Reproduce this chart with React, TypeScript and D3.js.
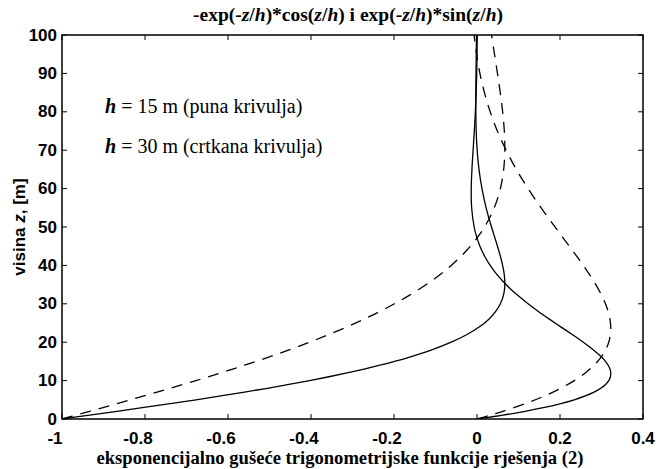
import * as d3 from "d3";

// heights z [m] and function values
const zSolid = [0, 1, 2, 3, 4, 5, 6, 7, 8, 9, 10, 11, 12, 13, 14, 15, 16, 18, 20, 22, 24, 26, 28, 30, 32, 34, 36, 38, 40, 42, 45, 48, 50, 55, 60, 65, 70, 75, 80, 85, 90, 95, 100];
const cosSolid = [-1, -0.9334, -0.8674, -0.8024, -0.7389, -0.6771, -0.6174, -0.56, -0.5052, -0.453, -0.4035, -0.3569, -0.3131, -0.2721, -0.2341, -0.1988, -0.1662, -0.1091, -0.062, -0.024, 0.0059, 0.0286, 0.0451, 0.0563, 0.0632, 0.0665, 0.0669, 0.0652, 0.0618, 0.0573, 0.0493, 0.0407, 0.035, 0.022, 0.012, 0.0048, 0.0004, -0.0019, -0.0028, -0.0028, -0.0024, -0.0018, -0.0012];
const sinSolid = [0, 0.0623, 0.1163, 0.1627, 0.2018, 0.2344, 0.261, 0.2821, 0.2982, 0.3099, 0.3175, 0.3215, 0.3223, 0.3204, 0.316, 0.3096, 0.3014, 0.2807, 0.2562, 0.2294, 0.2018, 0.1744, 0.1479, 0.1231, 0.1002, 0.0795, 0.0613, 0.0453, 0.0318, 0.0204, 0.007, -0.0024, -0.0069, -0.0129, -0.0139, -0.0122, -0.0094, -0.0065, -0.0039, -0.002, -0.0007, 0.0001, 0.0005];

const zDashed = [0, 1, 2, 4, 6, 8, 10, 12, 14, 16, 18, 20, 22, 24, 26, 28, 30, 32, 36, 40, 44, 48, 52, 56, 60, 64, 68, 72, 76, 80, 84, 90, 96, 100];
const cosDashed = [-1, -0.9667, -0.9334, -0.8674, -0.8024, -0.7389, -0.6771, -0.6174, -0.56, -0.5052, -0.453, -0.4035, -0.3569, -0.3131, -0.2721, -0.2341, -0.1988, -0.1662, -0.1091, -0.062, -0.024, 0.0059, 0.0286, 0.0451, 0.0563, 0.0632, 0.0665, 0.0669, 0.0652, 0.0618, 0.0573, 0.0493, 0.0407, 0.035];
const sinDashed = [0, 0.0322, 0.0623, 0.1163, 0.1627, 0.2018, 0.2344, 0.261, 0.2821, 0.2982, 0.3099, 0.3175, 0.3215, 0.3223, 0.3204, 0.316, 0.3096, 0.3014, 0.2807, 0.2562, 0.2294, 0.2018, 0.1744, 0.1479, 0.1231, 0.1002, 0.0795, 0.0613, 0.0453, 0.0318, 0.0204, 0.007, -0.0024, -0.0069];

const xTicks = [-1, -0.8, -0.6, -0.4, -0.2, 0, 0.2, 0.4];
const xTickLabels = ["-1", "-0.8", "-0.6", "-0.4", "-0.2", "0", "0.2", "0.4"];
const yTicks = [0, 10, 20, 30, 40, 50, 60, 70, 80, 90, 100];

const W = 656;
const H = 469;
const left = 62, right = 643, top = 35, bottom = 419;
const SANS = "Liberation Sans";
const SERIF = "Liberation Serif";

export default function App() {
  const x = d3.scaleLinear().domain([-1, 0.4]).range([left, right]);
  const y = d3.scaleLinear().domain([0, 100]).range([bottom, top]);

  const line = (zs: number[], vs: number[]) =>
    d3
      .line<number>()
      .x((_, i) => x(vs[i]))
      .y((z) => y(z))
      .curve(d3.curveCatmullRom)(zs) || "";

  const curves = [
    { d: line(zSolid, cosSolid), dash: null },
    { d: line(zSolid, sinSolid), dash: null },
    { d: line(zDashed, cosDashed), dash: "11,8" },
    { d: line(zDashed, sinDashed), dash: "11,8" },
  ];

  const tl = 5;
  const it = { fontStyle: "italic" } as const;

  return (
    <svg
      width={W}
      height={H}
      viewBox={`0 0 ${W} ${H}`}
      style={{ position: "absolute", left: 0, top: 0, background: "#fff" }}
    >
      <defs>
        <clipPath id="plot">
          <rect x={left} y={top} width={right - left} height={bottom - top} />
        </clipPath>
      </defs>

      {/* title */}
      <text x={348} y={21} textAnchor="middle" style={{ fontFamily: SERIF, fontWeight: "bold", fontSize: "19.5px" }}>
        -exp(-<tspan style={it}>z</tspan>/<tspan style={it}>h</tspan>)*cos(<tspan style={it}>z</tspan>/<tspan style={it}>h</tspan>) i exp(-<tspan style={it}>z</tspan>/<tspan style={it}>h</tspan>)*sin(<tspan style={it}>z</tspan>/<tspan style={it}>h</tspan>)
      </text>

      {/* curves */}
      <g clipPath="url(#plot)" fill="none" stroke="#000" strokeWidth={1.3}>
        {curves.map((c, i) => (
          <path key={i} d={c.d} strokeDasharray={c.dash ?? undefined} />
        ))}
      </g>

      {/* ticks */}
      <g stroke="#000" strokeWidth={1}>
        {xTicks.map((t) => (
          <g key={"x" + t}>
            <line x1={x(t)} x2={x(t)} y1={bottom} y2={bottom - tl} />
            <line x1={x(t)} x2={x(t)} y1={top} y2={top + tl} />
          </g>
        ))}
        {yTicks.map((t) => (
          <g key={"y" + t}>
            <line x1={left} x2={left + tl} y1={y(t)} y2={y(t)} />
            <line x1={right} x2={right - tl} y1={y(t)} y2={y(t)} />
          </g>
        ))}
      </g>

      {/* box */}
      <rect x={left} y={top} width={right - left} height={bottom - top} fill="none" stroke="#000" strokeWidth={1.5} />

      {/* tick labels */}
      <g style={{ fontFamily: SANS, fontWeight: "bold", fontSize: "17px" }} fill="#000">
        {xTicks.map((t, i) => (
          <text key={"xl" + t} x={x(t) - (t < 0 ? 7 : 0)} y={443.5} textAnchor="middle">
            {xTickLabels[i]}
          </text>
        ))}
        {yTicks.map((t) => (
          <text key={"yl" + t} x={57} y={y(t) + 5.5} textAnchor="end">
            {t}
          </text>
        ))}
      </g>

      {/* axis labels */}
      <text x={340} y={464} textAnchor="middle" style={{ fontFamily: SERIF, fontWeight: "bold", fontSize: "18.6px" }}>
        eksponencijalno gušeće trigonometrijske funkcije rješenja (2)
      </text>
      <text
        transform={`translate(25, ${(top + bottom) / 2}) rotate(-90)`}
        textAnchor="middle"
        style={{ fontFamily: SANS, fontWeight: "bold", fontSize: "17px" }}
      >
        visina <tspan style={it}>z</tspan>, [m]
      </text>

      {/* annotations */}
      <g style={{ fontFamily: SERIF, fontSize: "20px" }}>
        <text x={105} y={113}>
          <tspan style={{ fontStyle: "italic", fontWeight: "bold" }}>h</tspan> = 15 m (puna krivulja)
        </text>
        <text x={105} y={153}>
          <tspan style={{ fontStyle: "italic", fontWeight: "bold" }}>h</tspan> = 30 m (crtkana krivulja)
        </text>
      </g>
    </svg>
  );
}
